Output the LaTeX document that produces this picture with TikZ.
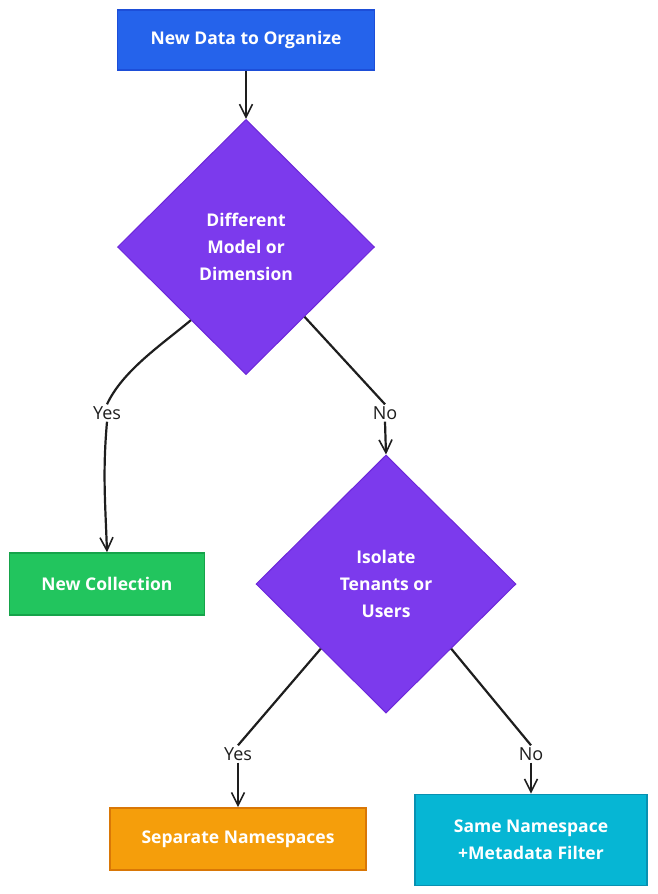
\documentclass[tikz,border=0pt]{standalone}
\usepackage{fontspec}
\setmainfont{Open Sans}
\usetikzlibrary{arrows.meta, positioning, shapes.geometric}
\definecolor{startblue}{RGB}{37,99,235}
\definecolor{startblueb}{RGB}{29,78,216}
\definecolor{askpurple}{RGB}{124,58,237}
\definecolor{askpurpleb}{RGB}{109,40,217}
\definecolor{collgreen}{RGB}{34,197,94}
\definecolor{collgreenb}{RGB}{22,163,74}
\definecolor{nsorange}{RGB}{245,158,11}
\definecolor{nsorangeb}{RGB}{217,119,6}
\definecolor{filtcyan}{RGB}{6,182,212}
\definecolor{filtcyanb}{RGB}{8,145,178}
\definecolor{inkgray}{RGB}{30,30,30}

\begin{document}
\begin{tikzpicture}[
    x=1pt, y=-1pt,
    font=\fontsize{18}{27}\selectfont,
    stepbox/.style ={rectangle, line width=1.6pt, text=white, inner sep=0pt,
                     align=center, font=\fontsize{17.5}{27}\selectfont\bfseries},
    askbox/.style  ={diamond, draw=askpurpleb, fill=askpurple, line width=1pt,
                     text=white, inner sep=0pt, align=center,
                     font=\fontsize{17.5}{27}\selectfont\bfseries,
                     minimum width=257pt, minimum height=255pt},
    answer/.style  ={text=inkgray, inner sep=2pt, fill=white},
    link/.style    ={-{Straight Barb[length=13pt, width=13pt, line width=1.6pt]},
                     line width=2.2pt, inkgray},
    plain/.style   ={line width=2.2pt, inkgray},
  ]

  \useasboundingbox (0,0) rectangle (657,894);

  % ---- top: the start box ----
  \node[stepbox, draw=startblueb, fill=startblue,
        minimum width=257pt, minimum height=60pt] (start) at (246,40)
        {New Data to Organize};

  % ---- decisions ----
  \node[askbox] (model)  at (246,247) {Different\\Model or\\Dimension};
  \node[askbox, minimum width=260pt, minimum height=258pt] (tenant) at (386,584)
        {Isolate\\Tenants or\\Users};

  % ---- outcomes ----
  \node[stepbox, draw=collgreenb, fill=collgreen,
        minimum width=195pt, minimum height=62pt] (coll) at (107,584)
        {New Collection};
  \node[stepbox, draw=nsorangeb, fill=nsorange,
        minimum width=256pt, minimum height=62pt] (sepns) at (238,839)
        {Separate Namespaces};
  \node[stepbox, draw=filtcyanb, fill=filtcyan,
        minimum width=232pt, minimum height=91pt] (samens) at (531,840)
        {Same Namespace\\+Metadata Filter};

  % ---- answer labels ----
  \node[answer] (yesA) at (107,413) {Yes};
  \node[answer] (noA)  at (385,413) {No};
  \node[answer] (yesB) at (238,754) {Yes};
  \node[answer] (noB)  at (531,754) {No};

  % ---- connectors ----
  \draw[link] (start) -- (model);

  \draw[plain] (model.-127) to[out=-140,in=65, looseness=0.8] (yesA.north);
  \draw[link]  (yesA.south) to[out=-95,in=92] (coll.north);
  \draw[plain] (model.-50) -- (noA.north);
  \draw[link]  (noA.south) -- (tenant.north);

  \draw[plain] (tenant.south west) -- (yesB.north);
  \draw[link]  (yesB.south) -- (sepns.north);
  \draw[plain] (tenant.south east) -- (noB.north);
  \draw[link]  (noB.south) -- (samens.north);

\end{tikzpicture}
\end{document}
